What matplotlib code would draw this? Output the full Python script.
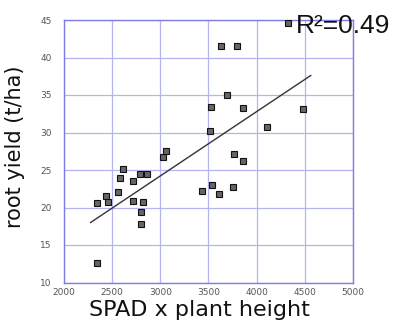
import numpy as np
import matplotlib
matplotlib.use("Agg")
import matplotlib.pyplot as plt

# SPAD x plant height vs root yield
spad_height = [2338, 2344, 2434, 2452, 2561, 2586, 2614, 2717, 2721, 2786, 2803,
               2803, 2820, 2865, 3027, 3061, 3434, 3534, 3606, 3751, 3768, 3854,
               3519, 3531, 3693, 3858, 4110, 4485, 3631, 3792, 4330]
root_yield = [12.6, 20.6, 21.5, 20.7, 22.1, 24.0, 25.1, 23.6, 20.9, 24.5, 19.4,
              17.8, 20.8, 24.5, 26.8, 27.6, 22.2, 23.0, 21.8, 22.7, 27.1, 26.2,
              30.2, 33.4, 35.0, 33.2, 30.8, 33.1, 41.6, 41.5, 44.6]

# regression line ends as drawn
fit_x = [2276, 4561]
fit_y = [18.0, 37.6]
r2_label = "R²=0.49"

GRID = "#b4b4f2"
FRAME = "#7d7de6"

fig = plt.figure(figsize=(4.03, 3.22), dpi=100)
ax = fig.add_axes([64 / 403, 1 - 282.5 / 322, 289 / 403, 262.5 / 322])

ax.plot(fit_x, fit_y, color="#333333", lw=1.0, zorder=3)
ax.plot(spad_height, root_yield, ls="none", marker="s", ms=4.2,
        mfc="#666666", mec="#111111", mew=0.8, zorder=4)

ax.set_xlim(2000, 5000)
ax.set_ylim(10, 45)
ax.set_xticks(np.arange(2000, 5001, 500))
ax.set_yticks(np.arange(10, 46, 5))
ax.grid(True, color=GRID, lw=0.9)
ax.set_axisbelow(True)
for s in ax.spines.values():
    s.set_color(FRAME); s.set_linewidth(1.0)
ax.tick_params(length=0, labelsize=6.5, labelcolor="#555555")
ax.tick_params(axis="y", pad=9)
ax.tick_params(axis="x", pad=4)

# axis titles placed in figure pixels to match the reference
fig.text(199 / 403, 1 - 310 / 322, "SPAD x plant height", fontsize=16,
         color="#111111", ha="center", va="center")
fig.text(15 / 403, 1 - 147 / 322, "root yield (t/ha)", fontsize=15,
         color="#111111", ha="center", va="center", rotation=90)

fig.text(296 / 403, 1 - 33 / 322, r2_label, fontsize=19, family="Liberation Sans",
         color="#111111", va="baseline", ha="left")

fig.savefig("out.png", dpi=100)
